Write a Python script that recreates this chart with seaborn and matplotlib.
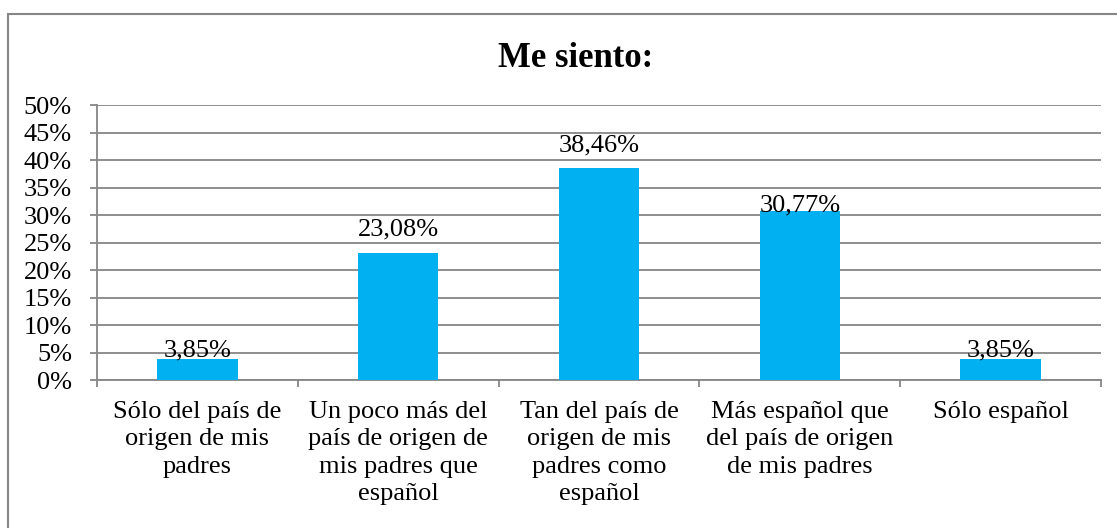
import matplotlib as mpl
mpl.use('Agg')
import matplotlib.pyplot as plt
from matplotlib.patches import Rectangle
from matplotlib.ticker import FuncFormatter, FixedLocator
import pandas as pd
import seaborn as sns

categories = [
    'Sólo del país de\norigen de mis\npadres',
    'Un poco más del\npaís de origen de\nmis padres que\nespañol',
    'Tan del país de\norigen de mis\npadres como\nespañol',
    'Más español que\ndel país de origen\nde mis padres',
    'Sólo español',
]
values = [3.85, 23.08, 38.46, 30.77, 3.85]
labels = ['3,85%', '23,08%', '38,46%', '30,77%', '3,85%']
# vertical shift of each data label (points), as Excel placed them
label_shift = [1.5, 13, 12.5, -0.5, 1.5]

df = pd.DataFrame({'cat': categories, 'val': values})

sns.set_theme(style='white')
plt.rcParams['font.family'] = ['Liberation Serif', 'DejaVu Serif']
plt.rcParams['text.color'] = 'black'
grey = '#868686'
fs = 19

fig = plt.figure(figsize=(11.17, 5.28), dpi=100)
ax = fig.add_axes([0.0868, 0.2803, 0.8989, 0.5208])

sns.barplot(data=df, x='cat', y='val', ax=ax, color='#00B0F0', width=0.4,
            saturation=1, linewidth=0, zorder=3)

ax.set_xlim(-0.5, len(categories) - 0.5)
ax.set_ylim(0, 50)
ax.set_yticks(range(0, 51, 5))
ax.yaxis.set_major_formatter(FuncFormatter(lambda v, p: f'{v:.0f}%'))
ax.set_xticks(range(len(categories)), categories, linespacing=1.32)
ax.grid(axis='y', color=grey, linewidth=1.3, zorder=0)
ax.set_axisbelow(True)

for s in ['top', 'right']:
    ax.spines[s].set_visible(False)
for s in ['left', 'bottom']:
    ax.spines[s].set_color(grey)
    ax.spines[s].set_linewidth(1.3)

ax.tick_params(axis='y', left=True, length=5, width=1.3, color=grey,
               labelsize=fs, pad=13, labelcolor='black')
ax.tick_params(axis='x', which='major', length=0, labelsize=fs, pad=15,
               labelcolor='black')
ax.xaxis.set_minor_locator(FixedLocator([i - 0.5 for i in range(len(categories) + 1)]))
ax.tick_params(axis='x', which='minor', bottom=True, length=5, width=1.3, color=grey)

for i, (v, lab) in enumerate(zip(values, labels)):
    ax.annotate(lab, (i, v), xytext=(0, label_shift[i]), textcoords='offset points',
                ha='center', va='baseline', fontsize=fs, color='black', zorder=4)

ax.set_xlabel('')
ax.set_ylabel('')
fig.text(0.515, 0.89, 'Me siento:', ha='center', va='center',
         fontsize=25, fontweight='bold', color='black')

fig.add_artist(Rectangle((8 / 1117, -0.1), 1.2, 0.1 + (1 - 14 / 528),
                         transform=fig.transFigure, fill=False,
                         edgecolor=grey, linewidth=1.5, clip_on=False))

plt.savefig('out.png', dpi=100)
